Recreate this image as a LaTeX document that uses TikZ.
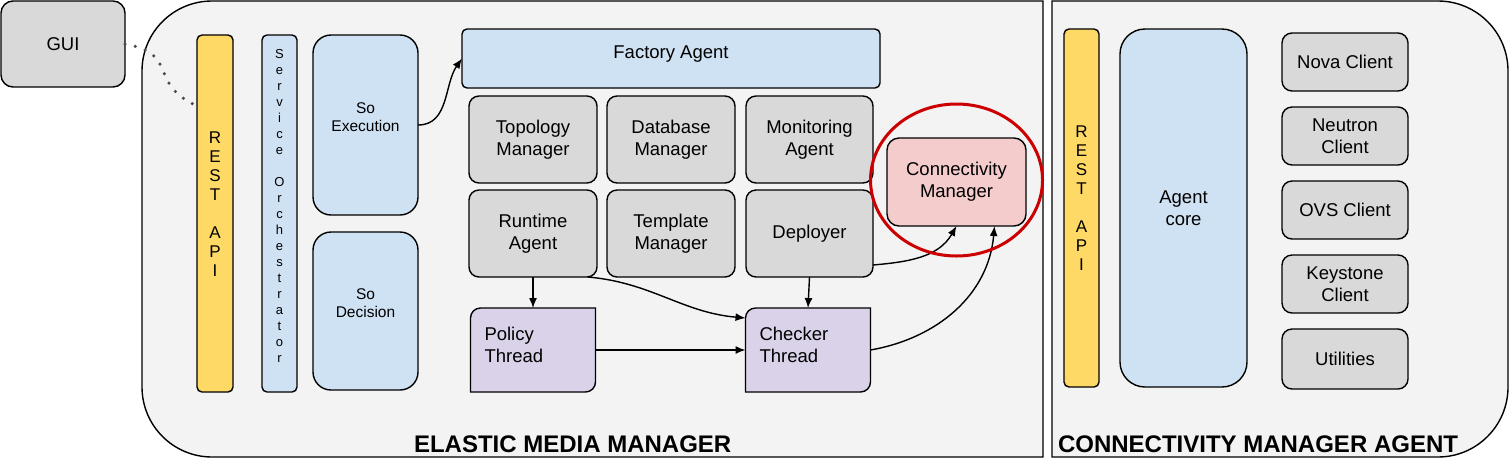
\documentclass[tikz,border=0pt]{standalone}
\usepackage{fontspec}
\setmainfont{Liberation Sans}
\usetikzlibrary{arrows.meta, positioning}
\definecolor{cmgray}{HTML}{D9D9D9}
\definecolor{cmblue}{HTML}{CFE2F3}
\definecolor{cmyellow}{HTML}{FFD966}
\definecolor{cmpink}{HTML}{F4CCCC}
\definecolor{cmlilac}{HTML}{D9D2E9}
\definecolor{cmpanel}{HTML}{F3F3F3}
\definecolor{cmred}{HTML}{CC0000}
\pgfdeclarelayer{back}
\pgfsetlayers{back,main}
\newcommand{\threadshape}[1]{%
	\begin{pgfonlayer}{back}
	\draw[line width=1.4pt, fill=cmlilac] ([xshift=10pt]#1.north west) -- (#1.north east)
		-- ([yshift=10pt]#1.south east) arc[start angle=0, end angle=-90, radius=10pt]
		-- (#1.south west) -- ([yshift=-10pt]#1.north west)
		arc[start angle=180, end angle=90, radius=10pt] -- cycle;
	\end{pgfonlayer}}

\begin{document}
\begin{tikzpicture}[
	x=1pt, y=-1pt,
	every node/.style={inner sep=0pt, outer sep=0pt},
	block/.style={rectangle, draw, fill=cmgray, rounded corners=10pt, line width=1.4pt,
		align=center, font=\fontsize{18.5}{22}\selectfont},
	grid/.style={block, minimum width=128pt, minimum height=87pt},
	client/.style={block, minimum width=126pt, minimum height=58pt},
	bar/.style={block, rounded corners=5pt, minimum height=357pt,
		font=\fontsize{17}{19}\selectfont, text depth=19pt},
	thread/.style={rectangle, minimum width=125pt, minimum height=84pt, text width=97pt,
		align=left, font=\fontsize{18.5}{22}\selectfont, text depth=32pt},
	title/.style={anchor=base west, font=\bfseries\fontsize{24}{28}\selectfont},
	line/.style={draw, line width=1.4pt, -{Latex[length=10pt, width=8pt]}},
	dots/.style={draw, black!70, line width=3.5pt, line cap=round, dash pattern=on 0pt off 10.5pt},
	]
	\useasboundingbox (0,0) rectangle (1511,459);

	\begin{pgfonlayer}{back}
	\draw[line width=1.4pt, fill=cmpanel] (1043,1) -- (212,1) arc[start angle=90, end angle=180, radius=70pt]
		-- (142,387) arc[start angle=180, end angle=270, radius=70pt] -- (1043,457) -- cycle;
	\draw[line width=1.4pt, fill=cmpanel] (1052,1) -- (1438,1) arc[start angle=90, end angle=0, radius=70pt]
		-- (1508,387) arc[start angle=0, end angle=-90, radius=70pt] -- (1052,457) -- cycle;
	\end{pgfonlayer}

	\node [block, minimum width=124pt, minimum height=86pt, rounded corners=12pt] (gui) at (63,44) {GUI};

	\node [bar, fill=cmyellow, minimum width=36pt] (rest1) at (215,213.5) {R\\E\\S\\T\\[19pt]A\\P\\I};
	\node [bar, fill=cmblue, minimum width=35pt, font=\fontsize{13}{16}\selectfont, text depth=16pt] (orch) at (279.5,213.5)
		{S\\e\\r\\v\\i\\c\\e\\[16pt]O\\r\\c\\h\\e\\s\\t\\r\\a\\t\\o\\r};
	\node [block, fill=cmblue, rounded corners=18pt, minimum width=105pt, minimum height=180pt,
		font=\fontsize{15.5}{18}\selectfont, text depth=16pt] (soexec) at (365.5,125) {So\\Execution};
	\node [block, fill=cmblue, rounded corners=18pt, minimum width=105pt, minimum height=158pt,
		font=\fontsize{15.5}{18}\selectfont, text depth=16pt] (sodec) at (365.5,311) {So\\Decision};
	\node [block, fill=cmblue, rounded corners=5pt, minimum width=418pt, minimum height=59pt,
		text depth=12pt] (factory) at (671,58.5) {Factory Agent};

	\node [grid] (topo) at (533,139.5) {Topology\\Manager};
	\node [grid, right=10pt of topo] (db) {Database\\Manager};
	\node [grid, right=11pt of db, minimum width=127pt] (mon) {Monitoring\\Agent};
	\node [grid, below=7pt of topo] (runtime) {Runtime\\Agent};
	\node [grid, right=10pt of runtime] (templ) {Template\\Manager};
	\node [grid, right=11pt of templ, minimum width=127pt] (deployer) {Deployer};
	\node [block, fill=cmpink, minimum width=139pt, minimum height=88pt, rounded corners=12pt] (conn) at (956.5,182)
		{Connectivity\\Manager};

	\node [thread, below=31pt of runtime] (policy) {Policy\\Thread};
	\node [thread, right=150pt of policy] (checker) {Checker\\Thread};
	\threadshape{policy}
	\threadshape{checker}

	\node [bar, fill=cmyellow, minimum width=35pt, minimum height=358pt] (rest2) at (1081.5,208) {R\\E\\S\\T\\[19pt]A\\P\\I};
	\node [block, fill=cmblue, rounded corners=25pt, minimum width=127pt, minimum height=358pt] (core) at (1183.5,208)
		{Agent\\core};
	\node [client] (nova) at (1345,62) {Nova Client};
	\node [client, below=16pt of nova] (neutron) {Neutron\\Client};
	\node [client, below=16pt of neutron] (ovs) {OVS Client};
	\node [client, below=16pt of ovs] (keystone) {Keystone\\Client};
	\node [client, below=16pt of keystone, minimum height=60pt] (util) {Utilities};

	\node [title] (emmtitle) at (414,452) {ELASTIC MEDIA MANAGER};
	\node [title] (cmatitle) at (1058,452) {CONNECTIVITY MANAGER AGENT};

	\path [dots] (gui.east) to[out=-10, in=155, looseness=1.5] ([yshift=-71pt]rest1.north west);
	\path [line] (soexec.east) to[out=0, in=-125] (factory.west);
	\path [line] (runtime.south) -- (runtime.south |- policy.north);
	\path [line] ([xshift=-9pt]runtime.south east) to[out=-5, in=175] ([yshift=-10pt]checker.north west);
	\path [line] (deployer.south) -- (checker.north);
	\path [line] (policy.east) -- (checker.west);
	\path [line] (checker.east) to[out=10, in=-95] ([xshift=38pt]conn.south);
	\path [line] ([yshift=12pt]deployer.south east) to[out=5, in=-120] (conn.south);

	\draw [cmred, line width=3pt] ([yshift=2pt]conn.center) ellipse [x radius=86pt, y radius=76pt];
\end{tikzpicture}
\end{document}
